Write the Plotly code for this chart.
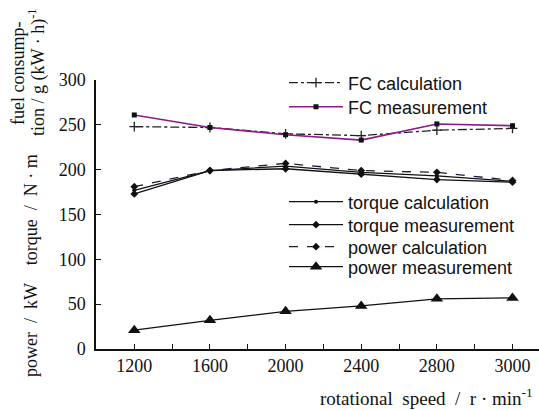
import plotly.graph_objects as go

speeds = ["1200", "1600", "2000", "2400", "2800", "3000"]
fc_calc = [248, 247, 240, 238, 244, 246]
fc_meas = [261, 247, 239, 233, 251, 249]
torque_calc = [177, 199, 204, 197, 193, 187]
torque_meas = [173, 199, 201, 195, 189, 186]
power_calc = [181, 199, 207, 199, 197, 188]
power_meas = [21, 32, 42, 48, 56, 57]
y_ticks = [0, 50, 100, 150, 200, 250, 300]

W, H = 539, 410
L, R, T, B = 96, 0, 80, 61
PW, PH = W - L - R, H - T - B

def px(x):
    return (x - L) / PW

def py(y):
    return (H - B - y) / PH

xi = list(range(len(speeds)))

fig = go.Figure()

series = [
    ("FC calculation", fc_calc, dict(color="#222", width=1.3, dash="dashdot"),
     dict(symbol="cross-thin", size=7, color="#222", line=dict(width=1.3, color="#222")), 83),
    ("FC measurement", fc_meas, dict(color="#8b1a8b", width=1.6),
     dict(symbol="square", size=5, color="#111"), 107),
    ("torque calculation", torque_calc, dict(color="#111", width=1.3),
     dict(symbol="circle", size=4, color="#111"), 202),
    ("torque measurement", torque_meas, dict(color="#111", width=1.3),
     dict(symbol="diamond", size=6, color="#111"), 225),
    ("power calculation", power_calc, dict(color="#1c1c3a", width=1.3, dash="dash"),
     dict(symbol="diamond", size=6, color="#111"), 247),
    ("power measurement", power_meas, dict(color="#111", width=1.3),
     dict(symbol="triangle-up", size=11, color="#111"), 267),
]

legend_layouts = {}
for k, (name, vals, line, marker, ly) in enumerate(series):
    lname = "legend" if k == 0 else f"legend{k+1}"
    fig.add_trace(go.Scatter(
        x=xi, y=vals, name=name, mode="lines+markers",
        line=line, marker=marker, legend=lname,
    ))
    legend_layouts[lname] = dict(
        x=px(284), y=py(ly), xanchor="left", yanchor="middle",
        bgcolor="rgba(0,0,0,0)", borderwidth=0, itemwidth=54,
        font=dict(family="Liberation Sans, Arial, sans-serif", size=18, color="#111"),
    )

serif = "Liberation Serif, Times New Roman, serif"

fig.update_layout(
    width=W, height=H,
    margin=dict(l=L, r=R, t=T, b=B, pad=0),
    paper_bgcolor="white", plot_bgcolor="white",
    showlegend=True,
    xaxis=dict(
        range=[-0.506, 5.35], tickmode="array", tickvals=xi, ticktext=speeds,
        ticks="inside", ticklen=5, tickwidth=1.2, tickcolor="#111",
        showline=True, linecolor="#111", linewidth=1.5,
        showgrid=False, zeroline=False,
        tickfont=dict(family=serif, size=18, color="#111"),
        minor=dict(tickvals=[0.5, 1.5, 2.5, 3.5, 4.5], ticks="inside", ticklen=5,
                   tickwidth=1.2, tickcolor="#111", showgrid=False),
    ),
    yaxis=dict(
        range=[0, 300], tickmode="array", tickvals=y_ticks,
        ticks="inside", ticklen=5, tickwidth=1.2, tickcolor="#111",
        showline=True, linecolor="#111", linewidth=1.5,
        showgrid=False, zeroline=False, ticklabelstandoff=5,
        tickfont=dict(family=serif, size=18, color="#111"),
    ),
    **legend_layouts,
)

ann_font = dict(family=serif, size=18, color="#111")
fig.add_annotation(xref="paper", yref="paper", x=px(31), y=py(266),
                   text="power  /  kW    torque  /  N · m", textangle=-90,
                   showarrow=False, xanchor="center", yanchor="middle", font=ann_font)
fig.add_annotation(xref="paper", yref="paper", x=px(37), y=py(72),
                   text="tion / g (kW · h)<sup>-1</sup>", textangle=-90,
                   showarrow=False, xanchor="center", yanchor="middle", font=ann_font)
fig.add_annotation(xref="paper", yref="paper", x=px(18), y=py(74),
                   text="fuel consump-", textangle=-90,
                   showarrow=False, xanchor="center", yanchor="middle", font=ann_font)
fig.add_annotation(xref="paper", yref="paper", x=px(535), y=py(397),
                   text="rotational  speed  /  r · min<sup>-1</sup>",
                   showarrow=False, xanchor="right", yanchor="middle",
                   font=dict(family=serif, size=19, color="#111"))

fig.write_html("out.html", config={"displayModeBar": False},
               post_script="document.body.style.margin='0';document.body.style.overflow='hidden';")
